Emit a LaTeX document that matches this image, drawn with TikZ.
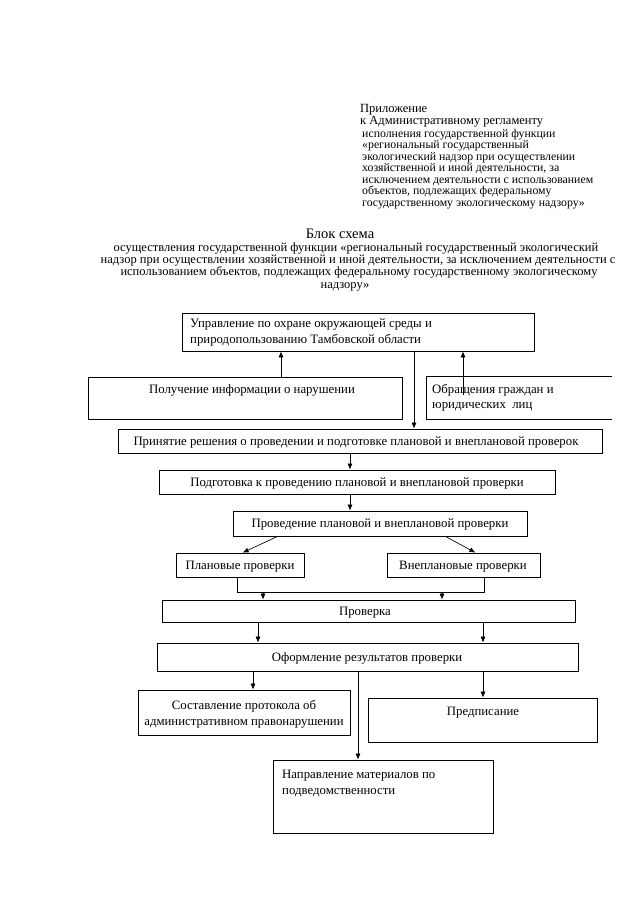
\documentclass[tikz,border=0pt]{standalone}
\usepackage{fontspec}
\setmainfont{Liberation Serif}
\usetikzlibrary{arrows.meta,fit}
\begin{document}
\begin{tikzpicture}[x=1pt,y=-1pt,
  box/.style={draw, line width=0.75pt, inner sep=0pt, rectangle},
  nobox/.style={inner sep=0pt, rectangle},
  txt/.style={inner sep=0pt, anchor=base, font=\fontsize{12.8}{15}\selectfont},
  ltxt/.style={inner sep=0pt, anchor=base west, font=\fontsize{12.8}{15}\selectfont},
  hbig/.style={inner sep=0pt, anchor=base west, font=\fontsize{12.5}{14}\selectfont},
  hsml/.style={inner sep=0pt, anchor=base west, font=\fontsize{11.8}{13}\selectfont},
  ttl/.style={inner sep=0pt, anchor=base, font=\fontsize{12.5}{14}\selectfont},
  arr/.style={line width=0.65pt, -{Latex[length=6pt,width=5pt]}},
  ln/.style={line width=0.65pt}]
\useasboundingbox (0,0) rectangle (640,905);

% header
\node[hbig] (h1) at (360,112) {Приложение};
\node[hbig] (h2) at (360,124) {к Административному регламенту};
\node[hsml] (h3) at (362,137) {исполнения государственной функции};
\node[hsml] (h4) at (362,148.5) {«региональный государственный};
\node[hsml] (h5) at (362,160) {экологический надзор при осуществлении};
\node[hsml] (h6) at (362,171.5) {хозяйственной и иной деятельности, за};
\node[hsml] (h7) at (362,183) {исключением деятельности с использованием};
\node[hsml] (h8) at (362,194.5) {объектов, подлежащих федеральному};
\node[hsml] (h9) at (362,206) {государственному экологическому надзору»};

% title
\node[ttl, font=\fontsize{14.5}{16}\selectfont] (t0) at (340,238) {Блок схема};
\node[ttl] (t1) at (356,251) {осуществления государственной функции «региональный государственный экологический};
\node[ttl] (t2) at (358,263) {надзор при осуществлении хозяйственной и иной деятельности, за исключением деятельности с};
\node[ttl] (t3) at (359,275) {использованием объектов, подлежащих федеральному государственному экологическому};
\node[ttl] (t4) at (345,288) {надзору»};

% boxes
\node[box, fit={(182,313) (534,351)}] (upr) {};
\node[ltxt] (upr1) at (190,327) {Управление по охране окружающей среды и};
\node[ltxt] (upr2) at (190,343) {природопользованию Тамбовской области};

\node[box, fit={(88,377) (402,419)}] (pol) {};
\node[txt] (polt) at (252,393) {Получение информации о нарушении};

\node[nobox, fit={(427,377) (612,419)}] (obr) {};
\draw[line width=0.75pt] (obr.north east) -- (obr.north west) -- (obr.south west) -- (obr.south east);
\node[ltxt] (obr1) at (432,393) {Обращения граждан и};
\node[ltxt] (obr2) at (432,408) {юридических\ \ лиц};

\node[box, fit={(118,429) (602,453)}] (prin) {};
\node[txt] (print) at (356,445) {Принятие решения о проведении и подготовке плановой и внеплановой проверок};

\node[box, fit={(159,470) (555,494)}] (podg) {};
\node[txt] (podgt) at (357,486) {Подготовка к проведению плановой и внеплановой проверки};

\node[box, fit={(233,511) (527,536)}] (prov) {};
\node[txt] (provt) at (380,527) {Проведение плановой и внеплановой проверки};

\node[box, fit={(176,553) (304,577)}] (plan) {};
\node[txt] (plant) at (240,569) {Плановые проверки};

\node[box, fit={(387,553) (540,577)}] (vnep) {};
\node[txt] (vnept) at (463,569) {Внеплановые проверки};

\node[box, fit={(162,600) (575,622)}] (prk) {};
\node[txt] (prkt) at (365,615) {Проверка};

\node[box, fit={(157,643) (578,671)}] (ofo) {};
\node[txt] (ofot) at (367,661) {Оформление результатов проверки};

\node[box, fit={(138,690) (350,735)}] (sost) {};
\node[txt] (sost1) at (244,709) {Составление протокола об};
\node[txt] (sost2) at (244,725) {административном правонарушении};

\node[box, fit={(368,698) (597,742)}] (pred) {};
\node[txt] (predt) at (483,715) {Предписание};

\node[box, fit={(273,760) (493,833)}] (napr) {};
\node[ltxt] (napr1) at (282,778) {Направление материалов по};
\node[ltxt] (napr2) at (282,794) {подведомственности};

% coordinates for connector columns
\coordinate (c281) at (281,0);
\coordinate (c463) at (463,0);
\coordinate (c414) at (414,0);
\coordinate (c350) at (350,0);
\coordinate (c237) at (237,0);
\coordinate (c484) at (484,0);
\coordinate (c263) at (263,0);
\coordinate (c442) at (442,0);
\coordinate (c258) at (258,0);
\coordinate (c483) at (483,0);
\coordinate (c253) at (253,0);
\coordinate (c358) at (358,0);
\coordinate (jn) at (0,592);
\coordinate (s463) at (463,395);

% connectors
\draw[arr] (c281 |- pol.north) -- (c281 |- upr.south);
\draw[arr] (s463) -- (c463 |- upr.south);
\draw[arr] (c414 |- upr.south) -- (c414 |- prin.north);
\draw[arr] (c350 |- prin.south) -- (c350 |- podg.north);
\draw[arr] (c350 |- podg.south) -- (c350 |- prov.north);
\draw[arr] ([xshift=45pt]prov.south west) -- ([xshift=67pt]plan.north west);
\draw[arr] ([xshift=-82pt]prov.south east) -- ([xshift=-65pt]vnep.north east);
\draw[ln] (c237 |- plan.south) -- (c237 |- jn) -- (c484 |- jn) -- (c484 |- vnep.south);
\draw[arr] (c263 |- jn) -- (c263 |- prk.north);
\draw[arr] (c442 |- jn) -- (c442 |- prk.north);
\draw[arr] (c258 |- prk.south) -- (c258 |- ofo.north);
\draw[arr] (c483 |- prk.south) -- (c483 |- ofo.north);
\draw[arr] (c253 |- ofo.south) -- (c253 |- sost.north);
\draw[arr] (c358 |- ofo.south) -- (c358 |- napr.north);
\draw[arr] (c483 |- ofo.south) -- (c483 |- pred.north);
\end{tikzpicture}
\end{document}
